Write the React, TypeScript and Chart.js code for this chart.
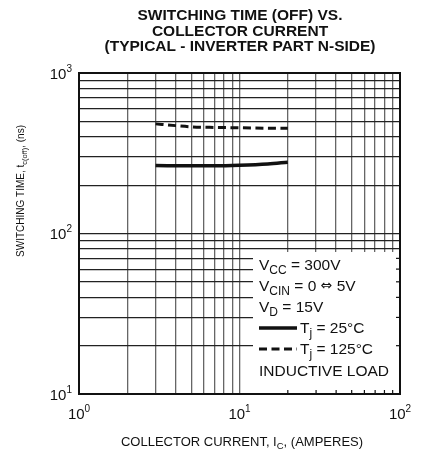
import React, { useEffect, useRef } from 'react';
import { Chart, registerables } from 'chart.js';
Chart.register(...registerables);

// ---- data ----
const currentSolid = [3, 5, 7, 10, 15, 20];
const timeSolid = [265, 264, 264, 266, 271, 278];
const currentDashed = [3, 4, 5, 7, 10, 15, 20];
const timeDashed = [482, 470, 462, 458, 456, 453, 452];

const xGrid = [1, 2, 3, 4, 5, 6, 7, 8, 9, 10, 20, 30, 40, 50, 60, 70, 80, 90, 100];
const yGrid = [10, 20, 30, 40, 50, 60, 70, 80, 90, 100, 200, 300, 400, 500, 600, 700, 800, 900, 1000];
const xTickValues = [1, 10, 100];
const xTickExps = ['0', '1', '2'];
const yTickValues = [10, 100, 1000];
const yTickExps = ['1', '2', '3'];

const titleLines = ['SWITCHING TIME (OFF) VS.', 'COLLECTOR CURRENT', '(TYPICAL - INVERTER PART N-SIDE)'];
const seriesLabels = ['25°C', '125°C'];

const FONT = '"Liberation Sans", Arial, Helvetica, "DejaVu Sans", sans-serif';
const SYMBOL_FONT = '"DejaVu Sans", sans-serif';

type Part = { t: string; s: number; dy: number; w?: string; f?: string };

function drawRich(ctx: CanvasRenderingContext2D, parts: Part[], x: number, y: number, align: 'left' | 'center' | 'right') {
  let total = 0;
  const widths = parts.map((p) => {
    ctx.font = `${p.w || 'normal'} ${p.s}px ${p.f || FONT}`;
    const w = ctx.measureText(p.t).width;
    total += w;
    return w;
  });
  let cx = align === 'left' ? x : align === 'center' ? x - total / 2 : x - total;
  ctx.textAlign = 'left';
  ctx.textBaseline = 'alphabetic';
  parts.forEach((p, i) => {
    ctx.font = `${p.w || 'normal'} ${p.s}px ${p.f || FONT}`;
    ctx.fillText(p.t, cx, y + p.dy);
    cx += widths[i];
  });
}

const overlayPlugin = {
  id: 'overlay',
  afterDraw(chart: any) {
    const ctx: CanvasRenderingContext2D = chart.ctx;
    const { left, right, top, bottom } = chart.chartArea;
    const xs = chart.scales.x;
    const ys = chart.scales.y;
    ctx.save();
    ctx.fillStyle = '#111';
    ctx.strokeStyle = '#111';

    // legend/condition box (white)
    const boxL = 253;
    const boxT = 252;
    ctx.fillStyle = '#fff';
    ctx.fillRect(boxL, boxT, right - boxL, bottom - boxT);
    ctx.fillStyle = '#111';
    ctx.lineWidth = 1.2;
    xGrid.forEach((v) => {
      const px = xs.getPixelForValue(v);
      if (px > boxL + 2 && px < right - 1) {
        ctx.beginPath();
        ctx.moveTo(px, bottom);
        ctx.lineTo(px, bottom - 4);
        ctx.stroke();
      }
    });
    yGrid.forEach((v) => {
      const py = ys.getPixelForValue(v);
      if (py > boxT + 2 && py < bottom - 1) {
        ctx.beginPath();
        ctx.moveTo(right, py);
        ctx.lineTo(right - 4, py);
        ctx.stroke();
      }
    });

    // frame
    ctx.lineWidth = 2;
    ctx.strokeRect(left, top, right - left, bottom - top);

    // x tick labels
    xTickValues.forEach((v, i) => {
      const px = xs.getPixelForValue(v);
      drawRich(ctx, [
        { t: '10', s: 15, dy: 0 },
        { t: xTickExps[i], s: 10, dy: -7 },
      ], px, 419, 'center');
    });
    // y tick labels
    yTickValues.forEach((v, i) => {
      const py = ys.getPixelForValue(v);
      drawRich(ctx, [
        { t: '10', s: 15, dy: 0 },
        { t: yTickExps[i], s: 10, dy: -7 },
      ], 72, py + 5.5, 'right');
    });

    // axis titles
    drawRich(ctx, [
      { t: 'COLLECTOR CURRENT, I', s: 13, dy: 0 },
      { t: 'C', s: 9.5, dy: 3 },
      { t: ', (AMPERES)', s: 13, dy: 0 },
    ], 242, 446, 'center');

    ctx.save();
    ctx.translate(24, 191);
    ctx.rotate(-Math.PI / 2);
    drawRich(ctx, [
      { t: 'SWITCHING TIME, t', s: 10, dy: 0 },
      { t: 'c(off)', s: 7.5, dy: 3 },
      { t: ', (ns)', s: 10, dy: 0 },
    ], 0, 0, 'center');
    ctx.restore();

    // title
    titleLines.forEach((line, i) => {
      drawRich(ctx, [{ t: line, s: 15.5, dy: 0, w: 'bold' }], 240, 20 + i * 15.5, 'center');
    });

    // conditions
    const tx = 259;
    const fs = 15.5;
    const ss = 12;
    drawRich(ctx, [
      { t: 'V', s: fs, dy: 0 }, { t: 'CC', s: ss, dy: 4 }, { t: ' = 300V', s: fs, dy: 0 },
    ], tx, 270, 'left');
    drawRich(ctx, [
      { t: 'V', s: fs, dy: 0 }, { t: 'CIN', s: ss, dy: 4 }, { t: ' = 0 ', s: fs, dy: 0 },
      { t: '⇔', s: 14, dy: -1, f: SYMBOL_FONT }, { t: ' 5V', s: fs, dy: 0 },
    ], tx, 291, 'left');
    drawRich(ctx, [
      { t: 'V', s: fs, dy: 0 }, { t: 'D', s: ss, dy: 4 }, { t: ' = 15V', s: fs, dy: 0 },
    ], tx, 311.5, 'left');

    // series samples
    ctx.lineWidth = 3.5;
    ctx.beginPath();
    ctx.moveTo(259, 328);
    ctx.lineTo(297, 328);
    ctx.stroke();
    drawRich(ctx, [
      { t: 'T', s: fs, dy: 0 }, { t: 'j', s: ss, dy: 4 }, { t: ' = ' + seriesLabels[0], s: fs, dy: 0 },
    ], 300, 333, 'left');
    ctx.lineWidth = 3;
    ctx.setLineDash([8, 4.5]);
    ctx.beginPath();
    ctx.moveTo(259, 349);
    ctx.lineTo(297, 349);
    ctx.stroke();
    ctx.setLineDash([]);
    drawRich(ctx, [
      { t: 'T', s: fs, dy: 0 }, { t: 'j', s: ss, dy: 4 }, { t: ' = ' + seriesLabels[1], s: fs, dy: 0 },
    ], 300, 354, 'left');
    drawRich(ctx, [{ t: 'INDUCTIVE LOAD', s: fs, dy: 0 }], tx, 375.5, 'left');

    ctx.restore();
  },
};

export default function App() {
  const ref = useRef<HTMLCanvasElement>(null);
  useEffect(() => {
    if (!ref.current) return;
    const chart = new Chart(ref.current, {
      type: 'line',
      data: {
        datasets: [
          {
            label: 'Tj = 25°C',
            data: currentSolid.map((x, i) => ({ x, y: timeSolid[i] })),
            borderColor: '#111',
            borderWidth: 3.5,
            pointRadius: 0,
            cubicInterpolationMode: 'monotone',
          },
          {
            label: 'Tj = 125°C',
            data: currentDashed.map((x, i) => ({ x, y: timeDashed[i] })),
            borderColor: '#111',
            borderWidth: 3,
            borderDash: [8, 4.5],
            pointRadius: 0,
            cubicInterpolationMode: 'monotone',
          },
        ],
      },
      plugins: [overlayPlugin],
      options: {
        animation: false,
        responsive: false,
        devicePixelRatio: 1,
        layout: { padding: { left: 79, top: 73, right: 25, bottom: 59 } },
        plugins: { legend: { display: false }, tooltip: { enabled: false }, title: { display: false } },
        scales: {
          x: {
            type: 'logarithmic',
            min: 1,
            max: 100,
            afterBuildTicks: (s: any) => { s.ticks = xGrid.map((v) => ({ value: v })); },
            ticks: { display: false },
            grid: { color: '#666', lineWidth: 1.3, drawTicks: false },
            border: { display: false },
          },
          y: {
            type: 'logarithmic',
            min: 10,
            max: 1000,
            afterBuildTicks: (s: any) => { s.ticks = yGrid.map((v) => ({ value: v })); },
            ticks: { display: false },
            grid: { color: '#222', lineWidth: 1.2, drawTicks: false },
            border: { display: false },
          },
        },
      },
    } as any);
    return () => chart.destroy();
  }, []);
  return (
    <div style={{ position: 'absolute', left: 0, top: 0, width: 425, height: 453, background: '#fff' }}>
      <canvas ref={ref} width={425} height={453} style={{ width: 425, height: 453, display: 'block' }} />
    </div>
  );
}
